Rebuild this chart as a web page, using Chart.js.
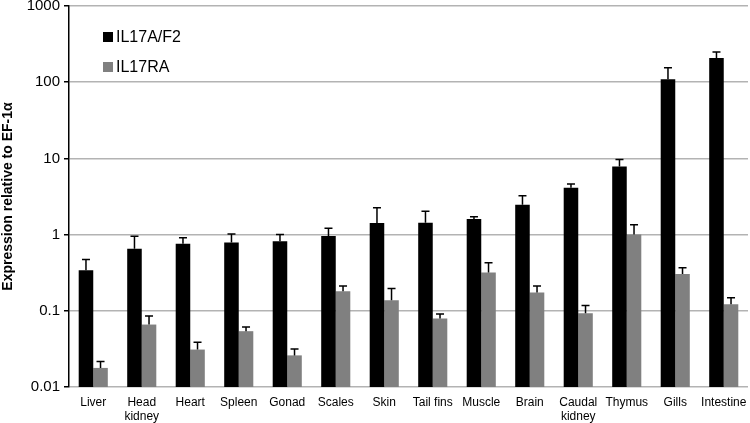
<!DOCTYPE html>
<html>
<head>
<meta charset="utf-8">
<script src="https://cdn.jsdelivr.net/npm/chart.js@4"></script>
<style>
  html, body { margin: 0; padding: 0; background: #fff; }
  #wrap { width: 750px; height: 423px; }
</style>
</head>
<body>
<div id="wrap"><canvas id="chart"></canvas></div>
<script>
const tissues = ["Liver", ["Head", "kidney"], "Heart", "Spleen", "Gonad", "Scales", "Skin", "Tail fins",
  "Muscle", "Brain", ["Caudal", "kidney"], "Thymus", "Gills", "Intestine"];

const il17a = [0.34, 0.65, 0.76, 0.79, 0.82, 0.96, 1.42, 1.43, 1.6, 2.46, 4.12, 7.8, 109, 207];
const il17aErr = [0.13, 0.30, 0.15, 0.23, 0.18, 0.25, 0.83, 0.59, 0.11, 0.78, 0.49, 1.9, 46, 43];

const il17ra = [0.0178, 0.066, 0.031, 0.054, 0.026, 0.181, 0.138, 0.079, 0.319, 0.174, 0.093, 1.0, 0.303, 0.122];
const il17raErr = [0.0038, 0.0197, 0.0077, 0.0074, 0.0056, 0.031, 0.058, 0.012, 0.107, 0.038, 0.024, 0.35, 0.063, 0.026];

const yTicks = [0.01, 0.1, 1, 10, 100, 1000];
const yTickLabels = ["0.01", "0.1", "1", "10", "100", "1000"];

Chart.defaults.font.family = "'Liberation Sans', Arial, sans-serif";
Chart.defaults.color = "#000";

// upper error bars with a cap
const errorBars = {
  id: "errorBars",
  afterDatasetsDraw(chart) {
    const ctx = chart.ctx;
    const y = chart.scales.y;
    ctx.save();
    ctx.strokeStyle = "#000";
    ctx.lineWidth = 1.5;
    chart.data.datasets.forEach((ds, di) => {
      const meta = chart.getDatasetMeta(di);
      meta.data.forEach((bar, i) => {
        const top = y.getPixelForValue(ds.data[i] + ds.errors[i]);
        ctx.beginPath();
        ctx.moveTo(bar.x, bar.y);
        ctx.lineTo(bar.x, top);
        ctx.moveTo(bar.x - 4, top);
        ctx.lineTo(bar.x + 4, top);
        ctx.stroke();
      });
    });
    ctx.restore();
  }
};

// legend inside the plot, top left
const innerLegend = {
  id: "innerLegend",
  afterDraw(chart) {
    const ctx = chart.ctx;
    const a = chart.chartArea;
    ctx.save();
    ctx.font = "16px 'Liberation Sans', Arial, sans-serif";
    ctx.textBaseline = "middle";
    chart.data.datasets.forEach((ds, i) => {
      const x = a.left + 34;
      const yy = a.top + 31 + i * 30;
      ctx.fillStyle = ds.backgroundColor;
      ctx.fillRect(x, yy - 5, 10, 10);
      ctx.fillStyle = "#000";
      ctx.fillText(ds.label, x + 13, yy + 1);
    });
    ctx.restore();
  }
};

new Chart(document.getElementById("chart"), {
  type: "bar",
  plugins: [errorBars, innerLegend],
  data: {
    labels: tissues,
    datasets: [
      { label: "IL17A/F2", data: il17a, errors: il17aErr, backgroundColor: "#000000" },
      { label: "IL17RA", data: il17ra, errors: il17raErr, backgroundColor: "#808080" }
    ]
  },
  options: {
    responsive: true,
    maintainAspectRatio: false,
    animation: false,
    layout: { padding: { top: 6, right: 2 } },
    datasets: {
      bar: { categoryPercentage: 0.6, barPercentage: 1.0 }
    },
    plugins: {
      legend: { display: false },
      tooltip: { enabled: false }
    },
    scales: {
      x: {
        grid: { display: false },
        border: { display: false },
        ticks: { font: { size: 12, lineHeight: 1.15 }, padding: 1, maxRotation: 0, autoSkip: false },
        afterFit: (s) => { s.height = 36; }
      },
      y: {
        type: "logarithmic",
        min: 0.01,
        max: 1000,
        afterBuildTicks: (s) => { s.ticks = yTicks.map((v) => ({ value: v })); },
        afterFit: (s) => { s.width = 69; s.paddingTop = 0; s.paddingBottom = 0; },
        ticks: {
          font: { size: 15 },
          padding: 4,
          callback: (v) => yTickLabels[yTicks.indexOf(v)] ?? ""
        },
        grid: { color: "#b3b3b3", lineWidth: 1.5, tickColor: "#000", tickLength: 5 },
        border: { color: "#000", width: 1.5 },
        title: {
          display: true,
          text: "Expression relative to EF-1α",
          font: { size: 14, weight: "bold" },
          padding: { top: 0, bottom: 1 }
        }
      }
    }
  }
});
</script>
</body>
</html>
